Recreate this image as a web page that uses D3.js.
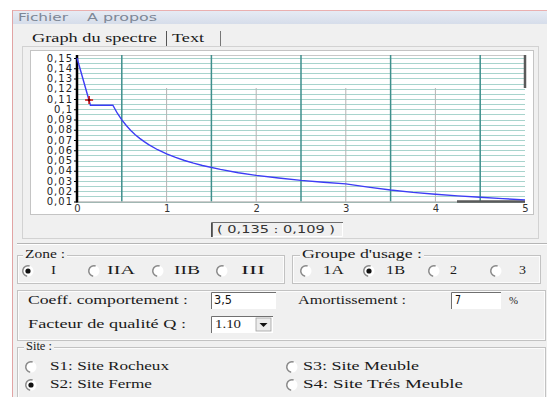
<!DOCTYPE html>
<html>
<head>
<meta charset="utf-8">
<script src="https://cdnjs.cloudflare.com/ajax/libs/d3/7.8.5/d3.min.js"></script>
<style>
  body { margin: 0; padding: 0; background: #fff; }
  svg { display: block; }
  .serif { font-family: "Liberation Serif", "DejaVu Serif", serif; font-size: 12px; fill: #1a1a1a; }
  .sans { font-family: "DejaVu Sans", sans-serif; }
</style>
</head>
<body>
<script>
const periodT = [0, 0.15, 0.4, 0.45, 0.5, 0.55, 0.6, 0.65, 0.7, 0.75, 0.8, 0.9, 1.0, 1.1, 1.2, 1.3, 1.4, 1.6, 1.8, 2.0, 2.25, 2.5, 2.75, 3.0, 3.25, 3.5, 3.75, 4.0, 4.25, 4.5, 4.75, 5.0];
const spectrumSa = [0.150, 0.1039, 0.1039, 0.0961, 0.0896, 0.0841, 0.0793, 0.0752, 0.0716, 0.0684, 0.0655, 0.0605, 0.0564, 0.0530, 0.0500, 0.0474, 0.0451, 0.0413, 0.0381, 0.0355, 0.0329, 0.0306, 0.0288, 0.0272, 0.0240, 0.0212, 0.0189, 0.0171, 0.0155, 0.0141, 0.0128, 0.0116];
const cursorPoint = [0.135, 0.109];

const yTicks = [0.15, 0.14, 0.13, 0.12, 0.11, 0.10, 0.09, 0.08, 0.07, 0.06, 0.05, 0.04, 0.03, 0.02, 0.01];
const yTickLabels = ["0,15", "0,14", "0,13", "0,12", "0,11", "0,1", "0,09", "0,08", "0,07", "0,06", "0,05", "0,04", "0,03", "0,02", "0,01"];
const xTicks = [0, 1, 2, 3, 4, 5];
const xHalfLines = [0.5, 1.5, 2.5, 3.5, 4.5];

const zoneOptions = ["I", "IIA", "IIB", "III"];
const groupOptions = ["1A", "1B", "2", "3"];
const siteOptions = ["S1: Site Rocheux", "S2: Site Ferme", "S3: Site Meuble", "S4: Site Trés Meuble"];

const W = 547, H = 397;
const svg = d3.select("body").append("svg").attr("width", W).attr("height", H);

// fenetre
svg.append("rect").attr("width", W).attr("height", H).attr("fill", "#fff");
svg.append("rect").attr("x", 12).attr("y", 11).attr("width", W - 12).attr("height", H - 11).attr("fill", "#f0f0f0");
svg.append("line").attr("x1", 12).attr("x2", W).attr("y1", 10.5).attr("y2", 10.5).attr("stroke", "#eab0b0");
svg.append("line").attr("x1", 12.5).attr("x2", 12.5).attr("y1", 10).attr("y2", H).attr("stroke", "#e2a4a4");

const defs = svg.append("defs");
const grad = defs.append("linearGradient").attr("id", "menuGrad").attr("x1", 0).attr("x2", 0).attr("y1", 0).attr("y2", 1);
grad.append("stop").attr("offset", "0%").attr("stop-color", "#e6ebf4");
grad.append("stop").attr("offset", "100%").attr("stop-color", "#d6ddea");
svg.append("rect").attr("x", 13).attr("y", 11).attr("width", W - 13).attr("height", 13).attr("fill", "url(#menuGrad)");

function label(x, y, text, cls, len, size) {
  const t = svg.append("text").attr("class", cls).attr("x", x).attr("y", y)
    .attr("dominant-baseline", "middle").text(text);
  if (len) t.attr("textLength", len).attr("lengthAdjust", "spacingAndGlyphs");
  if (size) t.style("font-size", size + "px");
  return t;
}

label(18, 17.5, "Fichier", "sans", 50, 11).attr("fill", "#7d8796");
label(87, 17.5, "A propos", "sans", 70, 11).attr("fill", "#7d8796");

// onglets
label(32, 39, "Graph du spectre", "serif", 125);
svg.append("line").attr("x1", 166.5).attr("x2", 166.5).attr("y1", 31).attr("y2", 47).attr("stroke", "#555");
label(172, 39, "Text", "serif", 32);
svg.append("line").attr("x1", 220.5).attr("x2", 220.5).attr("y1", 31).attr("y2", 46).attr("stroke", "#777");
svg.append("rect").attr("x", 22.5).attr("y", 46.5).attr("width", 516).attr("height", 192).attr("fill", "none").attr("stroke", "#d2d2d2");

// zone graphique
svg.append("rect").attr("x", 30.5).attr("y", 50.5).attr("width", 503).attr("height", 164)
  .attr("fill", "#fff").attr("stroke", "#c4c4c4");

const x = d3.scaleLinear().domain([0, 5]).range([77, 525]);
const y = d3.scaleLinear().domain([0.01, 0.15]).range([201.5, 58]);
const yTop = 55;

const plot = svg.append("g");
// lignes horizontales
plot.selectAll(".hgrid").data(d3.range(0.01, 0.1501, 0.005)).join("line")
  .attr("x1", x(0)).attr("x2", x(5))
  .attr("y1", d => Math.round(y(d)) + 0.5).attr("y2", d => Math.round(y(d)) + 0.5)
  .attr("stroke", "#a8d4cd").attr("stroke-width", 1.2);
plot.append("line").attr("x1", x(0)).attr("x2", x(5)).attr("y1", yTop + 0.5).attr("y2", yTop + 0.5).attr("stroke", "#c8c8c8");

// lignes verticales
plot.selectAll(".vmajor").data(xHalfLines).join("line")
  .attr("x1", d => x(d)).attr("x2", d => x(d)).attr("y1", yTop).attr("y2", y(0.01))
  .attr("stroke", "#3f8f8c").attr("stroke-width", 1.5);
plot.selectAll(".vminor").data(xTicks.slice(1, 5)).join("line")
  .attr("x1", d => x(d)).attr("x2", d => x(d)).attr("y1", 88).attr("y2", y(0.01))
  .attr("stroke", "#b4b4b4").attr("stroke-width", 1);

// bords
plot.append("line").attr("x1", x(0)).attr("x2", x(5)).attr("y1", y(0.01) + 0.5).attr("y2", y(0.01) + 0.5).attr("stroke", "#9a9a9a");
plot.append("line").attr("x1", 457).attr("x2", x(5)).attr("y1", y(0.01)).attr("y2", y(0.01)).attr("stroke", "#5a5a5a").attr("stroke-width", 2.5);
plot.append("line").attr("x1", x(5)).attr("x2", x(5)).attr("y1", yTop).attr("y2", 88).attr("stroke", "#5a5a5a").attr("stroke-width", 2.5);

// axes
const yAxis = svg.append("g").attr("transform", `translate(${x(0)},0)`)
  .call(d3.axisLeft(y).tickValues(yTicks).tickFormat((d, i) => yTickLabels[i]).tickSize(3).tickPadding(1));
yAxis.select(".domain").remove();
yAxis.selectAll("line").attr("stroke", "#000");
yAxis.selectAll("text").attr("font-family", "DejaVu Sans, sans-serif").attr("font-size", 10)
  .attr("fill", "#222").attr("letter-spacing", 1);
svg.append("line").attr("x1", x(0)).attr("x2", x(0)).attr("y1", yTop).attr("y2", y(0.01) + 1)
  .attr("stroke", "#000").attr("stroke-width", 2.5);

const xAxis = svg.append("g").attr("transform", `translate(0,${y(0.01)})`)
  .call(d3.axisBottom(x).tickValues(xTicks).tickFormat(d3.format("d")).tickSize(0).tickPadding(3));
xAxis.select(".domain").remove();
xAxis.selectAll("text").attr("font-family", "DejaVu Sans, sans-serif").attr("font-size", 10).attr("fill", "#333");

// courbe
const line = d3.line().x((d, i) => x(periodT[i])).y(d => y(d));
svg.append("path").datum(spectrumSa).attr("d", line)
  .attr("fill", "none").attr("stroke", "#3c3cf5").attr("stroke-width", 1.4);

// point curseur
const cx = x(cursorPoint[0]), cy = y(cursorPoint[1]);
svg.append("path").attr("d", `M${cx - 4},${cy}H${cx + 4}M${cx},${cy - 4}V${cy + 4}`)
  .attr("stroke", "#d01010").attr("stroke-width", 1.6);
svg.append("circle").attr("cx", cx).attr("cy", cy).attr("r", 1.4).attr("fill", "#600");

// coordonnees
function sunken(x0, y0, w, h, fill) {
  svg.append("rect").attr("x", x0).attr("y", y0).attr("width", w).attr("height", h).attr("fill", fill);
  svg.append("path").attr("d", `M${x0 + 0.5},${y0 + h}V${y0 + 0.5}H${x0 + w}`).attr("fill", "none").attr("stroke", "#707070");
  svg.append("path").attr("d", `M${x0 + 1},${y0 + h - 0.5}H${x0 + w - 0.5}V${y0 + 1}`).attr("fill", "none").attr("stroke", "#fff");
}
sunken(211, 222, 132, 15, "#f0f0f0");
svg.append("line").attr("x1", 212).attr("x2", 212).attr("y1", 223).attr("y2", 237).attr("stroke", "#404040").attr("stroke-width", 1.5);
label(217, 230, "( 0,135 : 0,109 )", "sans", 118, 11).attr("fill", "#333");

// separateur
svg.append("line").attr("x1", 17).attr("x2", W).attr("y1", 243.5).attr("y2", 243.5).attr("stroke", "#b5b5b5");
svg.append("line").attr("x1", 17).attr("x2", W).attr("y1", 244.5).attr("y2", 244.5).attr("stroke", "#fff");

function groupBox(x0, y0, w, h, title, tx, tlen) {
  svg.append("rect").attr("x", x0 + 0.5).attr("y", y0 + 0.5).attr("width", w).attr("height", h)
    .attr("fill", "none").attr("stroke", "#c2c2c2");
  svg.append("rect").attr("x", x0 + 1.5).attr("y", y0 + 1.5).attr("width", w - 2).attr("height", h - 2)
    .attr("fill", "none").attr("stroke", "#fcfcfc");
  if (title) {
    svg.append("rect").attr("x", tx - 2).attr("y", y0 - 2).attr("width", tlen + 4).attr("height", 5).attr("fill", "#f0f0f0");
    label(tx, y0, title, "serif", tlen, 11.5).attr("fill", "#333");
  }
}

function radio(rx, ry, checked) {
  const g = svg.append("g").attr("transform", `translate(${rx},${ry})`);
  g.append("circle").attr("r", 5.5).attr("fill", "#fff");
  g.append("path").attr("d", d3.arc()({ innerRadius: 4.5, outerRadius: 6, startAngle: -Math.PI * 0.95, endAngle: Math.PI * 0.1 }))
    .attr("fill", "#8a8a8a");
  if (checked) g.append("circle").attr("r", 2.6).attr("fill", "#111");
}

groupBox(17, 255, 267, 28, "Zone :", 25, 40);
groupBox(292, 255, 248, 28, "Groupe d'usage :", 302, 120);

const zoneRadioX = [28, 94, 158, 222];
const zoneTextX = [51, 107, 174, 241];
const zoneTextW = [5, 28, 26, 24];
zoneOptions.forEach((z, i) => {
  radio(zoneRadioX[i], 271, i === 0);
  label(zoneTextX[i], 271, z, "serif", zoneTextW[i]);
});

const groupRadioX = [306, 369, 434, 496];
const groupTextX = [323, 386, 450, 519];
const groupTextW = [21, 19, 7, 7];
groupOptions.forEach((gname, i) => {
  radio(groupRadioX[i], 271, i === 1);
  label(groupTextX[i], 271, gname, "serif", groupTextW[i]);
});

groupBox(17, 290, 528, 50, null);
label(28, 301, "Coeff. comportement :", "serif", 160);
sunken(211, 292, 65, 17, "#fff");
label(214, 300, "3,5", "sans", 18, 11.5).attr("fill", "#111");
label(298, 301, "Amortissement :", "serif", 108);
sunken(451, 292, 50, 17, "#fff");
label(455, 300, "7", "sans", 6, 11.5).attr("fill", "#111");
label(509, 301, "%", "serif", 9, 11);

label(28, 325, "Facteur de qualité Q :", "serif", 158);
sunken(211, 316, 62, 17, "#fff");
label(215, 325, "1.10", "serif", 26).style("font-size", "13px");
svg.append("rect").attr("x", 256).attr("y", 318).attr("width", 15).attr("height", 13).attr("fill", "#ececec")
  .attr("stroke", "#a0a0a0").attr("stroke-width", 0.8);
svg.append("path").attr("d", "M259.5,323H267.5L263.5,327Z").attr("fill", "#111");

groupBox(17, 347, 528, 60, "Site :", 26, 26);
const siteRadioX = [31, 31, 292, 292];
const siteTextX = [50, 50, 303, 303];
const siteY = [367, 385, 367, 385];
const siteTextW = [119, 102, 116, 160];
siteOptions.forEach((s, i) => {
  radio(siteRadioX[i], siteY[i], i === 1);
  label(siteTextX[i], siteY[i], s, "serif", siteTextW[i]);
});
</script>
</body>
</html>
